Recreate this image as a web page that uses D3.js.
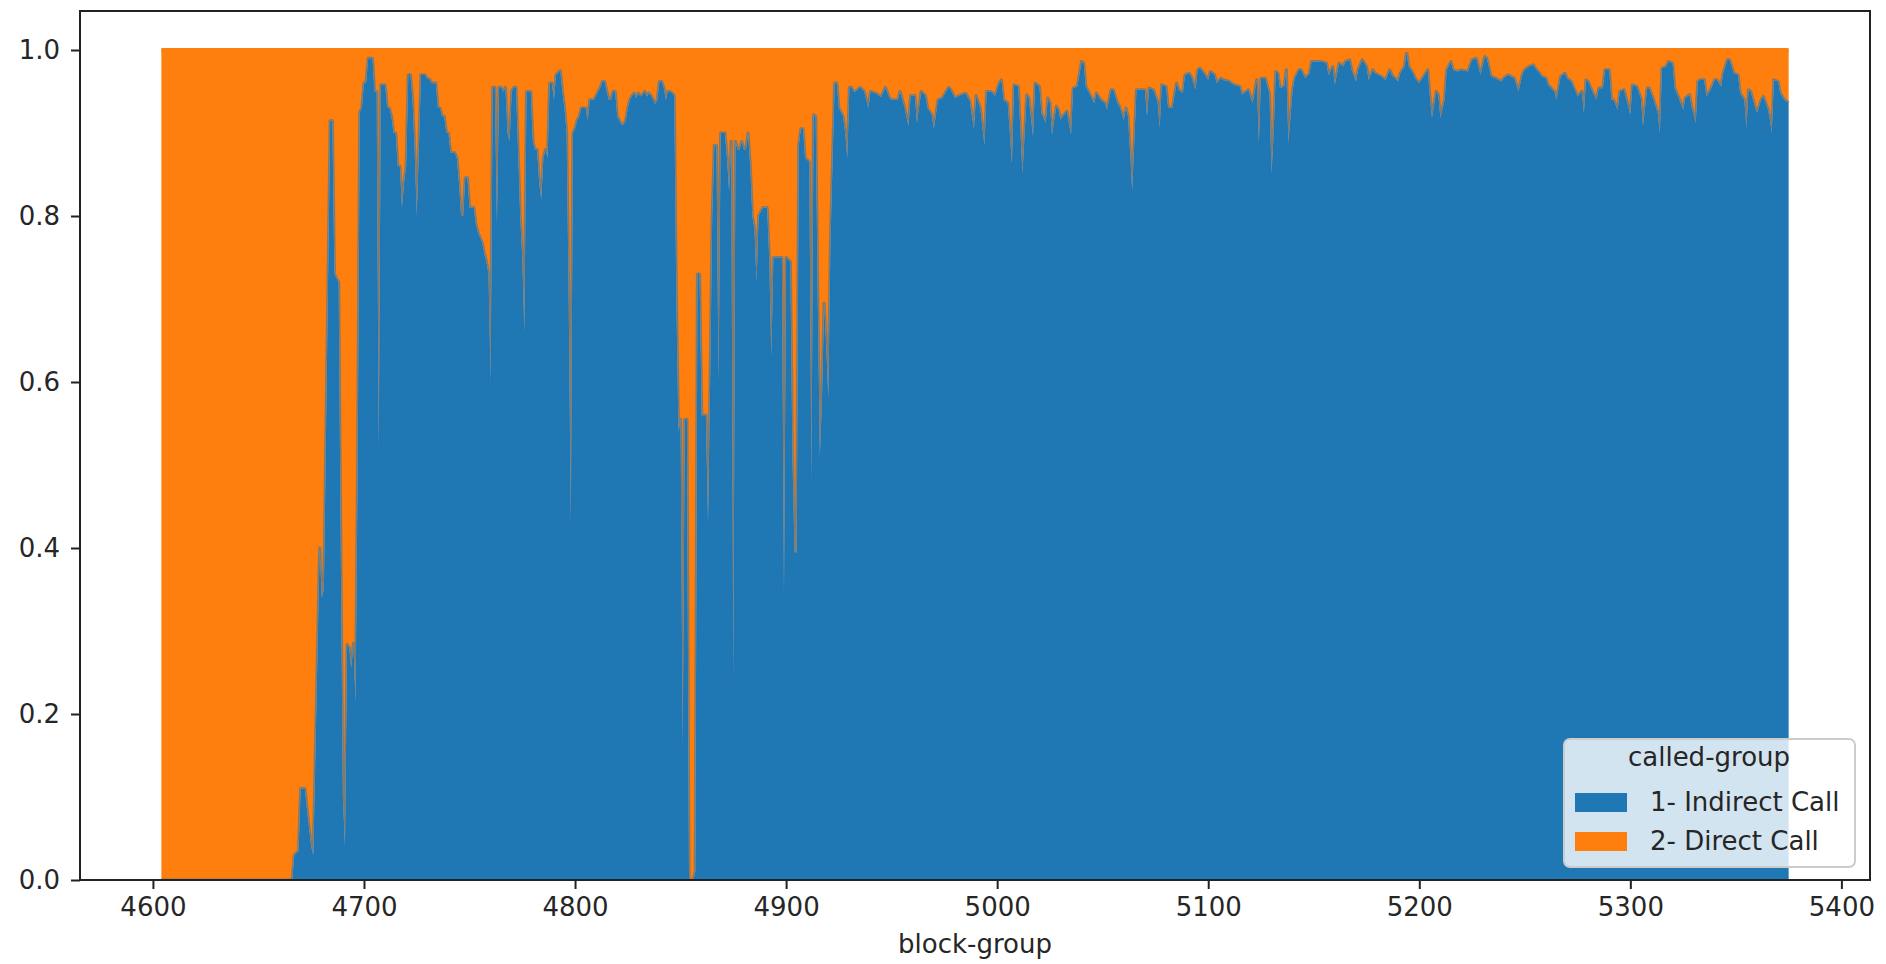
<!DOCTYPE html>
<html>
<head>
<meta charset="utf-8">
<script src="https://cdn.jsdelivr.net/npm/d3@7"></script>
<style>
  html, body { margin: 0; padding: 0; background: #fff; }
  svg { display: block; font-family: "DejaVu Sans", sans-serif; }
</style>
</head>
<body>
<svg id="chart" width="1886" height="964"></svg>
<script>
// ------- Data (shares per block-group) -------

const blockGroups = [
    4604,4666,4667,4669,4670,4672,4673,4675,4676,4679,
    4680,4681,4684,4685,4686,4688,4689,4690,4691,4692,
    4693,4694,4695,4696,4697,4698,4699,4700,4701,4702,
    4704,4705,4706,4707,4708,4710,4711,4712,4713,4714,
    4715,4716,4717,4718,4719,4720,4721,4722,4723,4724,
    4725,4726,4727,4729,4730,4731,4732,4734,4735,4736,
    4737,4738,4739,4740,4741,4743,4744,4745,4746,4747,
    4748,4749,4750,4752,4753,4754,4756,4757,4758,4759,
    4760,4761,4762,4763,
    4764,4765,4766,4767,4768,4769,4770,4771,4772,4773,
    4774,4775,4776,4777,4779,4780,4781,4782,4783,4784,
    4785,4786,4787,4788,4789,4790,4791,4793,4794,4795,
    4796,4797,4798,4799,4800,4801,4802,4803,4805,4806,
    4807,4809,4810,4811,4812,4813,4814,4815,4816,4817,
    4818,4819,4820,4821,4822,4823,4824,4825,4826,4827,
    4828,4829,4830,4831,4832,4833,4834,4835,4836,4837,
    4838,4839,4840,4841,4842,4843,4844,4845,4846,4847,
    4848,4849,4850,4851,4852,4853,4854,4856,4857,4858,
    4859,4860,4862,4863,4864,4865,4866,4867,4868,4869,
    4871,4872,4873,4874,4875,4876,4877,4878,4879,4880,
    4881,4882,4883,4884,4885,4886,4887,4889,4891,4892,
    4893,4894,4898,4899,4900,4902,4903,4904,4905,4906,
    4907,4908,4909,4911,4912,4913,4914,4915,4916,4917,
    4918,4919,4920,4921,4922,4923,4924,4925,4927,4928,
    4929,4930,4931,4932,
    4933,4935,4937,4939,4940,4943,4945,4947,4949,4950,
    4953,4954,4956,4958,4959,4961,4962,4964,4966,4967,
    4969,4970,4972,4974,4977,4978,4980,4982,4985,4987,
    4989,4990,4992,4994,4995,4997,4999,5001,
    5002,5003,5005,5007,5008,5010,5011,5012,5014,5015,
    5017,5018,5020,5021,5023,5024,5025,5026,5028,5029,
    5030,5031,5033,5035,5036,5038,5040,5041,5042,5044,
    5046,5047,5049,5051,5052,5054,5055,5057,5058,5060,
    5061,5062,5064,5066,5068,5070,5071,5072,5074,5076,
    5077,5078,5080,5081,5083,5085,5086,5088,5089,5091,
    5092,5094,5095,5096,5098,5100,5101,5103,5104,5106,
    5107,5110,5112,5115,5116,5118,5119,5121,5123,5124,
    5125,5127,5129,5130,5131,5132,5133,5134,5136,5137,
    5138,5140,5141,5143,
    5144,5146,5148,5149,5152,5154,5156,5157,5159,5160,
    5162,5164,5165,5167,5168,5170,5171,5173,5175,5176,
    5178,5179,5182,5184,5186,5187,5190,5191,5193,5194,
    5195,5197,5198,5200,5202,5204,5205,5206,5208,5209,
    5210,5212,5213,5215,5216,5218,5220,5223,5225,5227,
    5229,5231,5232,5234,5236,5239,5240,5242,5245,5247,
    5249,5250,5252,5254,5255,5257,5258,5260,5261,5264,
    5265,5267,
    5269,5270,5272,5273,5275,5277,5278,5279,5280,5282,
    5284,5285,5287,5288,5290,5291,5292,5294,5295,5297,
    5298,5300,5301,5303,5305,5306,5308,5309,5311,5313,
    5314,5315,5317,5318,5320,5321,5323,5325,5326,5328,
    5329,5331,5332,5333,5335,5336,5338,5340,5341,5343,
    5344,5346,5347,5349,5351,5352,5354,5355,5356,5357,
    5359,5360,5362,5363,5365,5366,5367,5368,5370,5371,
    5373,5374,5375
];

const indirectShare = [
    0,0,.03,.035,.11,.11,.085,.04,.03,.4,
    .34,.35,.915,.915,.73,.72,.4,.1,.04,.284,
    .28,.255,.285,.213,.5,.925,.93,.96,.96,.99,
    .99,.95,.95,.52,.958,.958,.93,.93,.92,.9,
    .9,.86,.86,.81,.84,.86,.97,.97,.94,.88,
    .8,.88,.97,.97,.965,.965,.96,.96,.93,.93,
    .92,.92,.9,.9,.876,.876,.87,.84,.8,.8,
    .846,.846,.81,.81,.79,.78,.768,.755,.745,.73,
    .6,.955,.955,.79,
    .955,.955,.95,.955,.9,.89,.95,.955,.955,.88,
    .8,.75,.66,.95,.95,.89,.88,.88,.84,.82,
    .87,.88,.87,.96,.96,.94,.97,.975,.95,.93,
    .9,.7,.43,.9,.905,.915,.92,.93,.93,.915,
    .94,.94,.945,.95,.955,.962,.962,.95,.94,.94,
    .95,.95,.92,.915,.91,.91,.915,.93,.94,.945,
    .948,.942,.948,.944,.946,.95,.944,.948,.945,.94,
    .935,.94,.962,.962,.955,.94,.95,.95,.948,.945,
    .7,.54,.555,.16,.555,.555,0,0,.01,.73,
    .73,.56,.56,.43,.6,.8,.885,.885,.6,.9,
    .9,.87,.83,.89,.24,.89,.88,.88,.89,.88,
    .88,.9,.86,.8,.785,.72,.8,.81,.81,.75,
    .63,.75,.75,.345,.75,.745,.51,.395,.395,.885,
    .905,.905,.87,.865,.48,.922,.92,.7,.51,.58,
    .695,.645,.58,.765,.865,.96,.96,.93,.92,.9,
    .87,.955,.955,.95,
    .95,.955,.95,.93,.95,.947,.943,.955,.942,.94,
    .94,.95,.932,.908,.945,.945,.912,.95,.945,.93,
    .922,.905,.94,.942,.955,.952,.942,.945,.948,.939,
    .905,.945,.93,.885,.95,.95,.945,.96,
    .964,.94,.936,.863,.958,.956,.904,.851,.946,.942,
    .896,.96,.956,.924,.912,.942,.936,.898,.932,.928,
    .916,.92,.926,.898,.954,.956,.986,.984,.956,.946,
    .936,.948,.94,.936,.928,.952,.952,.936,.932,.916,
    .93,.92,.831,.952,.952,.952,.92,.954,.952,.938,
    .906,.958,.956,.93,.93,.96,.952,.948,.97,.972,
    .968,.952,.976,.978,.972,.964,.974,.97,.96,.966,
    .964,.962,.958,.956,.946,.95,.952,.936,.964,.888,
    .966,.966,.948,.851,.9,.974,.972,.954,.956,.976,
    .888,.952,.966,.976,
    .976,.966,.972,.986,.986,.986,.984,.97,.98,.958,
    .984,.98,.986,.988,.976,.962,.976,.988,.98,.964,
    .976,.972,.968,.964,.976,.97,.962,.972,.98,.997,
    .98,.972,.966,.96,.968,.976,.944,.918,.95,.946,
    .918,.94,.976,.986,.976,.974,.976,.974,.988,.99,
    .97,.992,.99,.968,.966,.962,.966,.97,.966,.95,
    .972,.976,.98,.982,.978,.972,.968,.966,.958,.95,
    .94,.968,
    .972,.966,.962,.956,.944,.95,.924,.964,.962,.95,
    .94,.954,.954,.976,.976,.94,.94,.928,.95,.952,
    .942,.922,.958,.956,.942,.908,.954,.954,.94,.924,
    .9,.978,.98,.986,.984,.954,.942,.928,.942,.946,
    .932,.912,.962,.964,.964,.944,.952,.964,.964,.956,
    .972,.988,.988,.972,.97,.948,.94,.906,.952,.95,
    .932,.924,.94,.944,.93,.918,.9,.964,.962,.948,
    .94,.938,.936
];

const directShare = [
    1,1,.97,.965,.89,.89,.915,.96,.97,.6,
    .66,.65,.085,.085,.27,.28,.6,.9,.96,.716,
    .72,.745,.715,.787,.5,.075,.07,.04,.04,.01,
    .01,.05,.05,.48,.042,.042,.07,.07,.08,.1,
    .1,.14,.14,.19,.16,.14,.03,.03,.06,.12,
    .2,.12,.03,.03,.035,.035,.04,.04,.07,.07,
    .08,.08,.1,.1,.124,.124,.13,.16,.2,.2,
    .154,.154,.19,.19,.21,.22,.232,.245,.255,.27,
    .4,.045,.045,.21,
    .045,.045,.05,.045,.1,.11,.05,.045,.045,.12,
    .2,.25,.34,.05,.05,.11,.12,.12,.16,.18,
    .13,.12,.13,.04,.04,.06,.03,.025,.05,.07,
    .1,.3,.57,.1,.095,.085,.08,.07,.07,.085,
    .06,.06,.055,.05,.045,.038,.038,.05,.06,.06,
    .05,.05,.08,.085,.09,.09,.085,.07,.06,.055,
    .052,.058,.052,.056,.054,.05,.056,.052,.055,.06,
    .065,.06,.038,.038,.045,.06,.05,.05,.052,.055,
    .3,.46,.445,.84,.445,.445,1,1,.99,.27,
    .27,.44,.44,.57,.4,.2,.115,.115,.4,.1,
    .1,.13,.17,.11,.76,.11,.12,.12,.11,.12,
    .12,.1,.14,.2,.215,.28,.2,.19,.19,.25,
    .37,.25,.25,.655,.25,.255,.49,.605,.605,.115,
    .095,.095,.13,.135,.52,.078,.08,.3,.49,.42,
    .305,.355,.42,.235,.135,.04,.04,.07,.08,.1,
    .13,.045,.045,.05,
    .05,.045,.05,.07,.05,.053,.057,.045,.058,.06,
    .06,.05,.068,.092,.055,.055,.088,.05,.055,.07,
    .078,.095,.06,.058,.045,.048,.058,.055,.052,.061,
    .095,.055,.07,.115,.05,.05,.055,.04,
    .036,.06,.064,.137,.042,.044,.096,.149,.054,.058,
    .104,.04,.044,.076,.088,.058,.064,.102,.068,.072,
    .084,.08,.074,.102,.046,.044,.014,.016,.044,.054,
    .064,.052,.06,.064,.072,.048,.048,.064,.068,.084,
    .07,.08,.169,.048,.048,.048,.08,.046,.048,.062,
    .094,.042,.044,.07,.07,.04,.048,.052,.03,.028,
    .032,.048,.024,.022,.028,.036,.026,.03,.04,.034,
    .036,.038,.042,.044,.054,.05,.048,.064,.036,.112,
    .034,.034,.052,.149,.1,.026,.028,.046,.044,.024,
    .112,.048,.034,.024,
    .024,.034,.028,.014,.014,.014,.016,.03,.02,.042,
    .016,.02,.014,.012,.024,.038,.024,.012,.02,.036,
    .024,.028,.032,.036,.024,.03,.038,.028,.02,.003,
    .02,.028,.034,.04,.032,.024,.056,.082,.05,.054,
    .082,.06,.024,.014,.024,.026,.024,.026,.012,.01,
    .03,.008,.01,.032,.034,.038,.034,.03,.034,.05,
    .028,.024,.02,.018,.022,.028,.032,.034,.042,.05,
    .06,.032,
    .028,.034,.038,.044,.056,.05,.076,.036,.038,.05,
    .06,.046,.046,.024,.024,.06,.06,.072,.05,.048,
    .058,.078,.042,.044,.058,.092,.046,.046,.06,.076,
    .1,.022,.02,.014,.016,.046,.058,.072,.058,.054,
    .068,.088,.038,.036,.036,.056,.048,.036,.036,.044,
    .028,.012,.012,.028,.03,.052,.06,.094,.048,.05,
    .068,.076,.06,.056,.07,.082,.1,.036,.038,.052,
    .06,.062,.064
];

const seriesNames = ['1- Indirect Call', '2- Direct Call'];
const seriesColours = ['#1f77b4', '#ff7f0e'];
const legendTitle = 'called-group';
const xLabel = 'block-group';
const xTicks = [4600, 4700, 4800, 4900, 5000, 5100, 5200, 5300, 5400];
const yTicks = [0, 0.2, 0.4, 0.6, 0.8, 1.0];

// ------- Set up the g container -------

const svg = d3.select('#chart');
const width = +svg.attr('width');
const height = +svg.attr('height');

const margin = {top: 11, right: 16, bottom: 84, left: 80};
const innerWidth = width - margin.left - margin.right;
const innerHeight = height - margin.top - margin.bottom;

const g = svg.append('g')
    .attr('transform', `translate(${margin.left}, ${margin.top})`);

// ------- Scales -------

const n = Math.min(blockGroups.length, indirectShare.length, directShare.length);
const rows = d3.range(n).map(i => ({
    block: blockGroups[i],
    [seriesNames[0]]: indirectShare[i],
    [seriesNames[1]]: directShare[i]
}));

const stacked = d3.stack().keys(seriesNames)(rows);

const xExtent = d3.extent(rows, d => d.block);
const xPad = (xExtent[1] - xExtent[0]) * 0.05;
const x = d3.scaleLinear()
    .domain([xExtent[0] - xPad, xExtent[1] + xPad])
    .range([0, innerWidth]);

const y = d3.scaleLinear()
    .domain([0, 1.047])
    .range([innerHeight, 0]);

// ------- Stacked areas -------

g.append('clipPath')
    .attr('id', 'plot-clip')
    .append('rect')
        .attr('width', innerWidth)
        .attr('height', innerHeight);

const plot = g.append('g').attr('clip-path', 'url(#plot-clip)');

const area = d3.area()
    .x(d => x(d.data.block))
    .y0(d => y(d[0]))
    .y1(d => y(d[1]));

const topLine = d3.line()
    .x(d => x(d.data.block))
    .y(d => y(d[1]));

plot.selectAll('path.area')
    .data(stacked)
    .join('path')
        .attr('class', 'area')
        .attr('fill', (d, i) => seriesColours[i])
        .attr('d', area);

// the boundary line of the lower layer is drawn half see-through, so thin
// spikes into the orange come out greyish as in the original
plot.selectAll('path.edge')
    .data(stacked)
    .join('path')
        .attr('class', 'edge')
        .attr('fill', 'none')
        .attr('stroke', (d, i) => seriesColours[i])
        .attr('stroke-width', (d, i) => i == 0 ? 3.2 : 3.9)
        .attr('stroke-opacity', (d, i) => i == 0 ? 0.55 : 1)
        .attr('stroke-linejoin', 'round')
        .attr('d', topLine);

// ------- Axes -------

const xAxis = g.append('g')
    .attr('transform', `translate(0, ${innerHeight})`)
    .call(d3.axisBottom(x).tickValues(xTicks).tickFormat(d3.format('d')).tickSize(9).tickPadding(9));

const yAxis = g.append('g')
    .call(d3.axisLeft(y).tickValues(yTicks).tickFormat(d3.format('.1f')).tickSize(9).tickPadding(11));

[xAxis, yAxis].forEach(axis => {
    axis.attr('font-size', 26).attr('font-family', '"DejaVu Sans", sans-serif');
    axis.select('.domain').remove();
    axis.selectAll('line').attr('stroke', '#222').attr('stroke-width', 2);
    axis.selectAll('text').attr('fill', '#262626');
});

g.append('text')
    .attr('x', innerWidth / 2)
    .attr('y', innerHeight + 73)
    .attr('text-anchor', 'middle')
    .attr('fill', '#262626')
    .attr('font-size', 26)
    .text(xLabel);

g.append('rect')
    .attr('width', innerWidth)
    .attr('height', innerHeight)
    .attr('fill', 'none')
    .attr('stroke', '#222')
    .attr('stroke-width', 2);

// ------- Legend -------

const legend = g.append('g')
    .attr('transform', `translate(${innerWidth - 306}, ${innerHeight - 141})`);

legend.append('rect')
    .attr('width', 291)
    .attr('height', 128)
    .attr('rx', 6)
    .attr('fill', '#fff')
    .attr('fill-opacity', 0.8)
    .attr('stroke', '#cccccc')
    .attr('stroke-width', 2);

legend.append('text')
    .attr('x', 145)
    .attr('y', 27)
    .attr('text-anchor', 'middle')
    .attr('fill', '#262626')
    .attr('font-size', 26)
    .text(legendTitle);

const legendItem = legend.selectAll('g.legend-item')
    .data(seriesNames)
    .join('g')
        .attr('class', 'legend-item')
        .attr('transform', (d, i) => `translate(11, ${54 + i * 39})`);

legendItem.append('rect')
    .attr('width', 52)
    .attr('height', 19)
    .attr('fill', (d, i) => seriesColours[i]);

legendItem.append('text')
    .attr('x', 75)
    .attr('y', 18)
    .attr('fill', '#262626')
    .attr('font-size', 26)
    .text(d => d);
</script>
</body>
</html>
